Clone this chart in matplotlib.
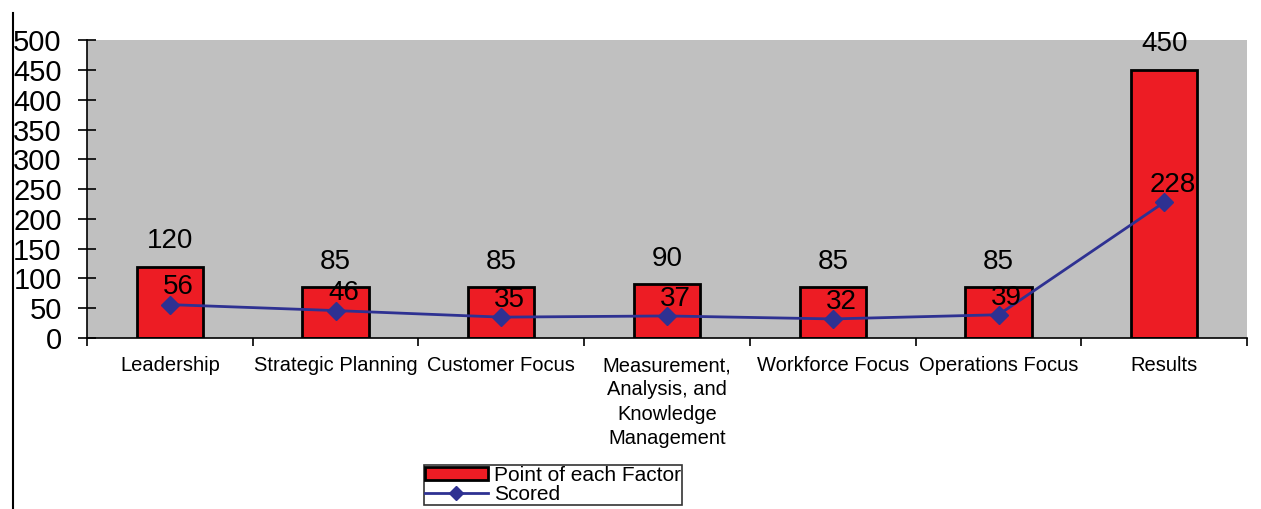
import numpy as np
import matplotlib.pyplot as plt
from matplotlib.lines import Line2D
from matplotlib.patches import Patch

plt.rcParams['font.family'] = ['Liberation Sans', 'DejaVu Sans']

categories = ["Leadership", "Strategic Planning", "Customer Focus",
              "Measurement,\nAnalysis, and\nKnowledge\nManagement",
              "Workforce Focus", "Operations Focus", "Results"]
points = [120, 85, 85, 90, 85, 85, 450]
scored = [56, 46, 35, 37, 32, 39, 228]
yticks = [0, 50, 100, 150, 200, 250, 300, 350, 400, 450, 500]

fig = plt.figure(figsize=(12.61, 5.09), dpi=100)
ax = fig.add_axes([0.069, 0.336, 0.92, 0.585])
ax.set_facecolor("#c0c0c0")

x = np.arange(len(categories))
ax.bar(x, points, width=0.4, color="#ed1c24", edgecolor="black", linewidth=2, zorder=2)
ax.plot(x, scored, color="#2e3192", lw=2, marker="D", ms=9, zorder=3)

for xi, p in zip(x, points):
    ax.annotate(str(p), (xi, p), xytext=(0, 9), textcoords="offset points",
                ha="center", va="bottom", fontsize=20)
for xi, s in zip(x, scored):
    ax.annotate(str(s), (xi, s), xytext=(6, 3), textcoords="offset points",
                ha="center", va="bottom", fontsize=20, zorder=4)

ax.set_xlim(-0.5, len(categories) - 0.5)
ax.set_ylim(0, 500)
ax.set_yticks(yticks)
ax.tick_params(axis="y", direction="inout", length=12.5, width=1.2, labelsize=21, pad=12)
ax.set_xticks(x)
ax.set_xticklabels(categories, fontsize=14.5, linespacing=1.35)
ax.tick_params(axis="x", which="major", length=0, pad=13)
ax.set_xticks(np.arange(-0.5, len(categories)), minor=True)
ax.tick_params(axis="x", which="minor", direction="out", length=6, width=1.2)
for s in ["top", "right"]:
    ax.spines[s].set_visible(False)
ax.spines["left"].set_linewidth(1.2)
ax.spines["bottom"].set_linewidth(1.2)

handles = [Patch(facecolor="#ed1c24", edgecolor="black", linewidth=2),
           Line2D([], [], color="#2e3192", lw=2, marker="D", ms=7)]
leg = fig.legend(handles, ["Point of each Factor", "Scored"], loc="lower left",
                 bbox_to_anchor=(0.333, 0.0), fontsize=15, frameon=True, fancybox=False,
                 edgecolor="black", borderpad=0.05, labelspacing=0.0, handlelength=3.0,
                 handleheight=0.6, handletextpad=0.3, borderaxespad=0.2)
leg.get_frame().set_linewidth(1.2)

fig.add_artist(Line2D([0.0103, 0.0103], [0, 0.975], color="black", lw=1.5,
                      transform=fig.transFigure))

fig.savefig("out.png", dpi=100)
